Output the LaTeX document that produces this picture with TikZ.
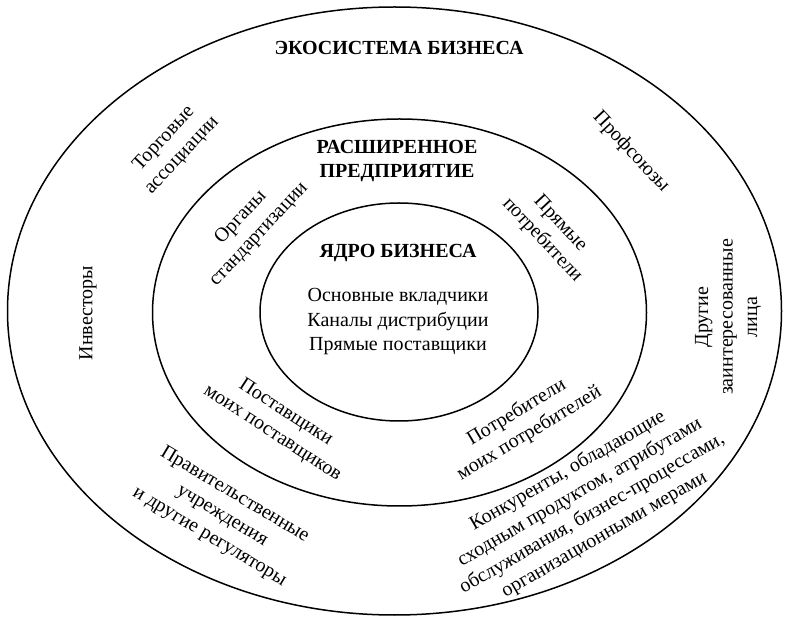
\documentclass[tikz,border=0pt]{standalone}
\usepackage{fontspec}
\setmainfont{Liberation Serif}
\usetikzlibrary{shapes.geometric}
\begin{document}
\begin{tikzpicture}[x=1pt, y=-1pt,
  ring/.style={draw, ellipse, line width=1.5pt, inner sep=0pt},
  lbl/.style={font=\fontsize{20}{24.5}\selectfont, align=center, inner sep=0pt},
  ttl/.style={font=\fontsize{20}{24.5}\selectfont\bfseries, align=center, inner sep=0pt}]
\useasboundingbox (0,0) rectangle (785,617);

% three nested rings
\node[ring, minimum width=774pt, minimum height=608pt] (outer)  at (394.5,311) {};
\node[ring, minimum width=494pt, minimum height=387pt] (middle) at (399.5,312.5) {};
\node[ring, minimum width=278pt, minimum height=218pt] (inner)  at (399,312) {};

% headings
\node[ttl] (ecoTitle) at (399,48) {ЭКОСИСТЕМА БИЗНЕСА};
\node[ttl] (entTitle) at (397,161) {РАСШИРЕННОЕ\\ПРЕДПРИЯТИЕ};
\node[ttl] (coreTitle) at (398,253) {ЯДРО БИЗНЕСА};

% core
\node[lbl] (core) at (398,322) {Основные вкладчики\\Каналы дистрибуции\\Прямые поставщики};

% extended enterprise ring
\node[lbl, rotate=47]  (standards) at (250,226) {Органы\\стандартизации};
\node[lbl, rotate=-47] (directCons) at (551,232) {Прямые\\потребители};
\node[lbl, rotate=-33] (suppliers) at (279,423) {Поставщики\\моих поставщиков};
\node[lbl, rotate=31]  (consumers) at (523,423) {Потребители\\моих потребителей};

% ecosystem ring
\node[lbl, rotate=47]  (trade) at (173,147) {Торговые\\ассоциации};
\node[lbl, rotate=-47] (unions) at (631,152) {Профсоюзы};
\node[lbl, rotate=90]  (investors) at (88,313) {Инвесторы};
\node[lbl, rotate=90]  (others) at (728,317) {Другие\\заинтересованные\\лица};
\node[lbl, rotate=-31] (gov) at (222,516) {Правительственные\\учреждения\\и другие регуляторы};
\node[lbl, rotate=30]  (rivals) at (586,503) {Конкуренты, обладающие\\сходным продуктом, атрибутами\\обслуживания, бизнес-процессами,\\организационными мерами};
\end{tikzpicture}
\end{document}
